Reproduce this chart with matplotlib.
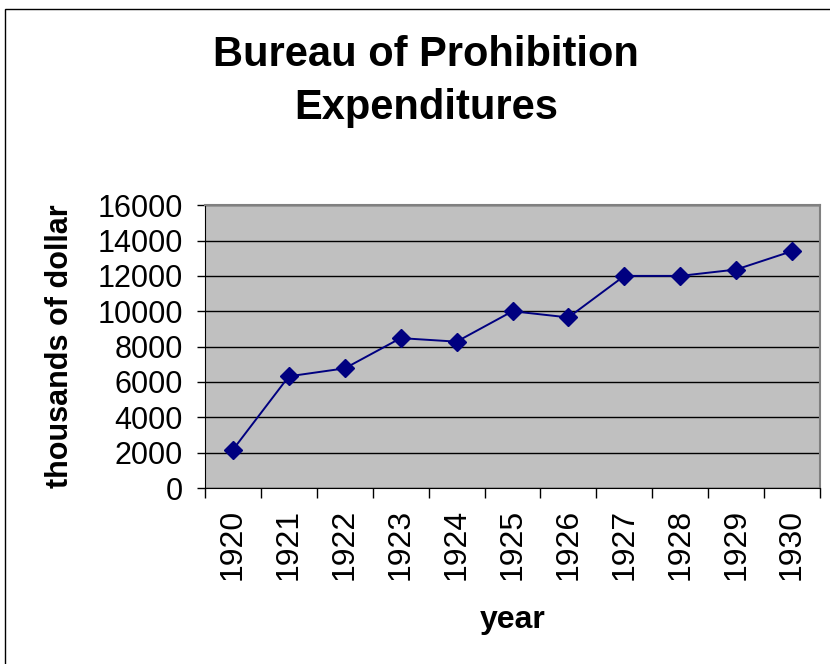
import matplotlib.pyplot as plt
from matplotlib.patches import Rectangle

plt.rcParams["font.family"] = ["Liberation Sans", "DejaVu Sans"]

# Bureau of Prohibition expenditures, thousands of dollars
years = ["1920", "1921", "1922", "1923", "1924", "1925",
         "1926", "1927", "1928", "1929", "1930"]
spending = [2170, 6320, 6770, 8480, 8280, 10000,
            9650, 12000, 12000, 12360, 13400]


def main():
    fig = plt.figure(figsize=(8.3, 6.64), dpi=100)
    ax = fig.add_axes([0.247, 0.265, 0.741, 0.426])

    # categories sit between the tick marks, like an Excel category axis
    xs = [i + 0.5 for i in range(len(years))]
    ax.set_facecolor("#C0C0C0")
    ax.plot(xs, spending, color="#000080", linewidth=1.4,
            marker="D", markersize=9, zorder=3)

    ax.set_xlim(0, len(years))
    ax.set_ylim(0, 16000)
    ax.set_yticks(range(0, 16001, 2000))
    ax.yaxis.grid(True, color="black", linewidth=1)
    ax.set_axisbelow(True)

    ax.set_xticks(range(len(years) + 1))
    ax.set_xticklabels([])
    ax.set_xticks(xs, minor=True)
    ax.set_xticklabels(years, minor=True, rotation=90, fontsize=23)
    ax.tick_params(axis="x", which="major", direction="out", length=7, width=1)
    ax.tick_params(axis="x", which="minor", length=0, pad=15)
    ax.tick_params(axis="y", direction="out", length=6, width=1,
                   labelsize=22, pad=10)

    for side in ("top", "right"):
        ax.spines[side].set_color("#808080")
        ax.spines[side].set_linewidth(1.5)
    for side in ("left", "bottom"):
        ax.spines[side].set_color("black")

    ax.set_ylabel("thousands of dollar", fontsize=22, fontweight="bold",
                  labelpad=16)
    ax.set_xlabel("year", fontsize=23, fontweight="bold", labelpad=18)

    fig.text(0.513, 0.877, "Bureau of Prohibition\nExpenditures",
             ha="center", va="center", fontsize=30, fontweight="bold",
             linespacing=1.4)

    # outer chart border
    fig.patches.append(Rectangle((0.006, -0.01), 1.0, 0.997,
                                 transform=fig.transFigure, fill=False,
                                 edgecolor="black", linewidth=1))

    fig.savefig("out.png", dpi=100)
    plt.close(fig)


if __name__ == "__main__":
    main()
